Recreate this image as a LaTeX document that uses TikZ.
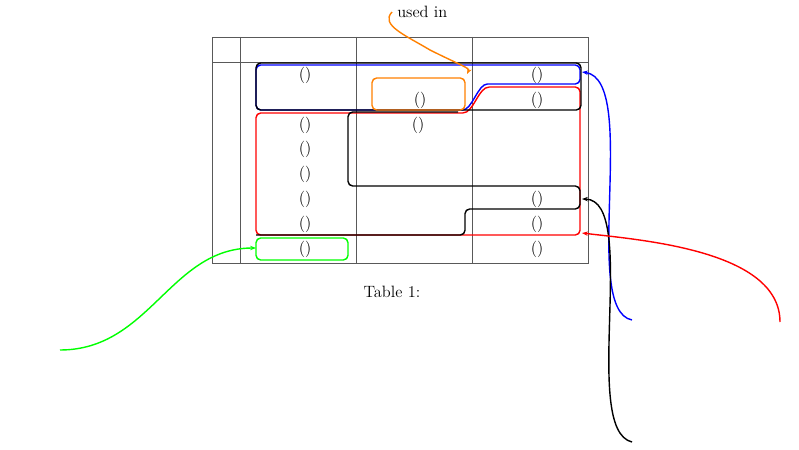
\documentclass[tikz,border=0pt]{standalone}
\usepackage{tikz}
\usetikzlibrary{arrows.meta}
\tikzset{
  grp/.style={line width=1.2pt,rounded corners=4pt},
  lnk/.style={line width=1.2pt,-{Stealth[length=5pt]}},
  cell/.style={inner sep=0pt,font=\fontsize{14}{16}\selectfont}
}
\begin{document}
\begin{tikzpicture}[x=0.03cm,y=-0.03cm]
			\useasboundingbox (0,0) rectangle (799,450);
			%表格
			\draw[gray!70!black] (212,37) rectangle (588,263);
			\draw[gray!70!black] (212,62)--(588,62);
			\foreach \c in {240,356,472} \draw[gray!70!black] (\c,37)--(\c,263);
			%单元格
			\foreach \r in {75,125,149,174,199,224,249} \node[cell] at (305,\r) {()};
			\foreach \r in {75,100,199,224,249} \node[cell] at (537,\r) {()};
			\node[cell] at (420,100) {()};
			\node[cell] at (418,125) {()};
			\node[cell] at (392,292) {Table 1:};
			%分组
			\draw[grp,blue] (256,65)--(580,65)--(580,84)--(492,84) .. controls (478,84) and (472,110) .. (458,110)--(256,110)--cycle;
			\draw[grp,red] (256,113)--(458,113) .. controls (474,113) and (478,87) .. (494,87)--(580,87)--(580,235)--(256,235)--cycle;
			\draw[grp] (256,63)--(581,63)--(581,110)--(256,110)--cycle;
			\draw[grp] (458,112)--(348,112)--(348,186)--(580,186)--(580,209)--(465,209)--(465,235)--(256,235);
			\draw[grp,orange] (372,78) rectangle (465,110);
			\draw[grp,green] (256,238) rectangle (348,260);
			%连接点
			\coordinate (orgA) at (392,12);
			\coordinate (orgB) at (467,74);
			\coordinate (grnA) at (60,350);
			\coordinate (grnB) at (256,248);
			\coordinate (bluA) at (632,320);
			\coordinate (bluB) at (582,72);
			\coordinate (blkA) at (632,442);
			\coordinate (blkB) at (582,199);
			\coordinate (redA) at (780,322);
			\coordinate (redB) at (582,233);
			%箭头
			\node[cell,right,inner sep=2pt] (used) at (orgA) {\,used in};
			\draw[lnk,orange] (used.west) .. controls (380,25) and (405,35) .. (430,50) .. controls (460,65) and (470,68) .. (orgB);
			\draw[lnk,green] (grnA) .. controls (150,350) and (170,248) .. (grnB);
			\draw[lnk,blue] (bluA) .. controls (580,310) and (640,80) .. (bluB);
			\draw[lnk] (blkA) .. controls (580,430) and (640,200) .. (blkB);
			\draw[lnk,red] (redA) .. controls (780,250) and (640,240) .. (redB);
\end{tikzpicture}
\end{document}
